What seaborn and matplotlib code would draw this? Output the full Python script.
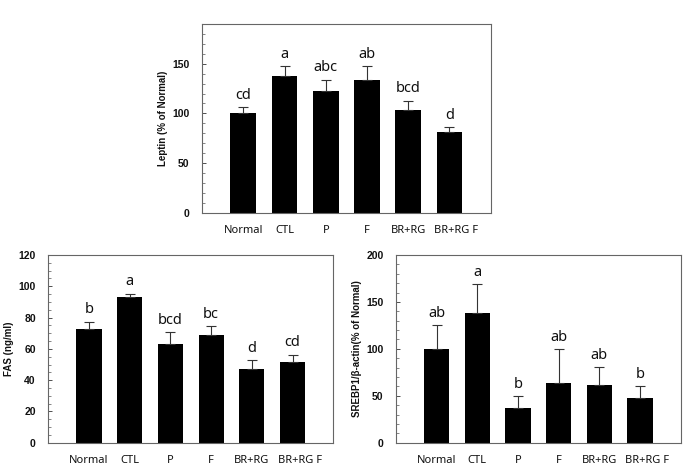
import matplotlib
matplotlib.use("Agg")
import matplotlib.pyplot as plt
import matplotlib.transforms as mtransforms
import seaborn as sns
import pandas as pd
import numpy as np
from matplotlib.ticker import MultipleLocator

sns.set_style("white")
plt.rcParams['font.family'] = ['Liberation Sans', 'DejaVu Sans']

groups = ["Normal", "CTL", "P", "F", "BR+RG", "BR+RG F"]

leptin_mean = [100, 137.5, 123, 134, 103.5, 81.5]
leptin_err = [6, 10, 11, 14, 9.5, 5]
leptin_sig = ["cd", "a", "abc", "ab", "bcd", "d"]

fas_mean = [72.5, 93.3, 63.3, 68.6, 46.9, 51.4]
fas_err = [5, 2, 7.7, 6, 6, 5]
fas_sig = ["b", "a", "bcd", "bc", "d", "cd"]

srebp_mean = [100, 138, 37.5, 63.5, 61, 47.5]
srebp_err = [25, 31, 12, 36, 19.5, 13]
srebp_sig = ["ab", "a", "b", "ab", "ab", "b"]

fig = plt.figure(figsize=(6.83, 4.67), dpi=100)
ax_top = fig.add_axes([0.2958, 0.5445, 0.4227, 0.404])
ax_bl = fig.add_axes([0.0707, 0.052, 0.4173, 0.4019])
ax_br = fig.add_axes([0.5798, 0.052, 0.4168, 0.4019])


def panel(ax, mean, err, sig, ylabel, ymax, major, minor):
    df = pd.DataFrame({"group": groups, "value": mean})
    sns.barplot(data=df, x="group", y="value", order=groups, color="black",
                width=0.62, errorbar=None, ax=ax, saturation=1,
                edgecolor="black", linewidth=0)
    x = np.arange(len(groups))
    ax.errorbar(x, mean, yerr=[np.zeros(len(err)), err], fmt="none",
                ecolor="#333333", elinewidth=0.8, capsize=3.5, capthick=0.8)
    for xi, m, e, s in zip(x, mean, err, sig):
        ax.annotate(s, (xi, m + e), xytext=(0, 3), textcoords="offset points",
                    ha="center", va="bottom", fontsize=10.5,
                    family=["Noto Sans", "DejaVu Sans"], color="#111111")
    ax.set_xlim(-1, 6)
    ax.set_ylim(0, ymax)
    ax.yaxis.set_major_locator(MultipleLocator(major))
    ax.yaxis.set_minor_locator(MultipleLocator(minor))
    ax.tick_params(axis="y", which="major", direction="in", length=3,
                   width=0.6, labelsize=7.5, pad=9, colors="#333333",
                   left=True)
    ax.tick_params(axis="y", which="minor", direction="in", length=2,
                   width=0.5, left=True, colors="#555555")
    ax.tick_params(axis="x", length=0, pad=9, labelsize=8)
    for lab in ax.get_yticklabels():
        lab.set_fontweight("bold")
        lab.set_color("#111111")
    xl = ax.get_xticklabels()
    for lab in xl:
        lab.set_family(["Noto Sans", "DejaVu Sans"])
        lab.set_color("#111111")
    shift = mtransforms.ScaledTranslation(7 / 100, 0, fig.dpi_scale_trans)
    xl[-1].set_transform(xl[-1].get_transform() + shift)
    ax.set_xlabel("")
    ax.set_ylabel(ylabel, fontsize=7, fontweight="bold", color="#111111",
                  labelpad=3)
    for sp in ax.spines.values():
        sp.set_color("#666666")
        sp.set_linewidth(0.8)
        sp.set_visible(True)


panel(ax_top, leptin_mean, leptin_err, leptin_sig, "Leptin (% of Normal)",
      190, 50, 10)
panel(ax_bl, fas_mean, fas_err, fas_sig, "FAS (ng/ml)", 120, 20, 5)
panel(ax_br, srebp_mean, srebp_err, srebp_sig, "SREBP1/β-actin(% of Normal)",
      200, 50, 10)

fig.savefig("out.png", dpi=100)
